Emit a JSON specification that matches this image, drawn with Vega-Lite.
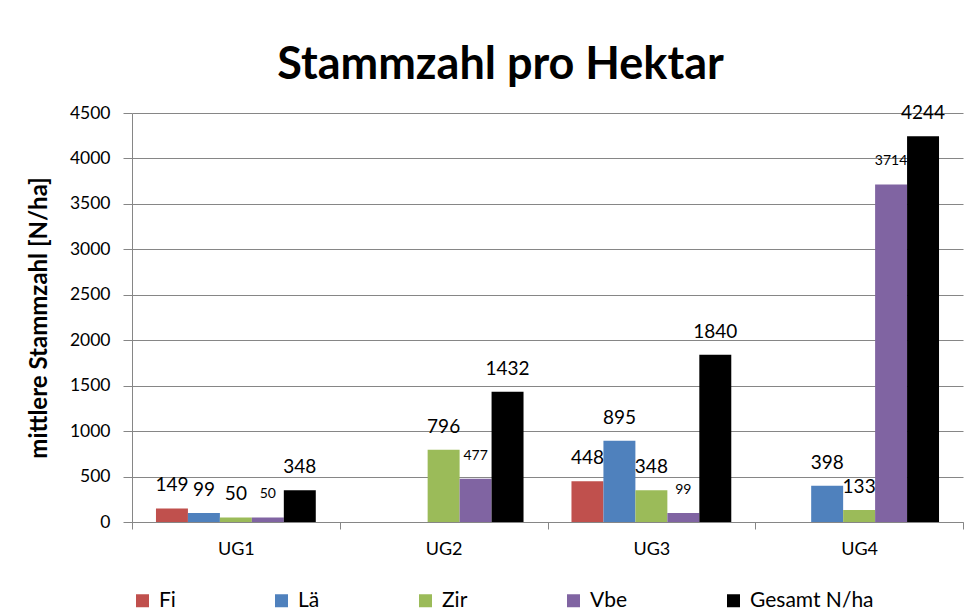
{
  "$schema": "https://vega.github.io/schema/vega-lite/v6.json",
  "autosize": {"type": "none"},
  "width": 831,
  "height": 409,
  "padding": {"left": 132, "top": 113, "right": 17, "bottom": 89},
  "background": "white",
  "config": {
    "font": "Lato",
    "view": {"stroke": null}
  },
  "title": {
    "text": "Stammzahl pro Hektar",
    "font": "Lato",
    "fontSize": 45,
    "fontWeight": "bold",
    "color": "black",
    "anchor": "middle",
    "dx": -47,
    "offset": 16
  },
  "data": {
    "values": [
      {"UG": "UG1", "Art": "Fi", "N": 149},
      {"UG": "UG1", "Art": "Lä", "N": 99},
      {"UG": "UG1", "Art": "Zir", "N": 50},
      {"UG": "UG1", "Art": "Vbe", "N": 50},
      {"UG": "UG1", "Art": "Gesamt N/ha", "N": 348},
      {"UG": "UG2", "Art": "Zir", "N": 796},
      {"UG": "UG2", "Art": "Vbe", "N": 477},
      {"UG": "UG2", "Art": "Gesamt N/ha", "N": 1432},
      {"UG": "UG3", "Art": "Fi", "N": 448},
      {"UG": "UG3", "Art": "Lä", "N": 895},
      {"UG": "UG3", "Art": "Zir", "N": 348},
      {"UG": "UG3", "Art": "Vbe", "N": 99},
      {"UG": "UG3", "Art": "Gesamt N/ha", "N": 1840},
      {"UG": "UG4", "Art": "Lä", "N": 398},
      {"UG": "UG4", "Art": "Zir", "N": 133},
      {"UG": "UG4", "Art": "Vbe", "N": 3714},
      {"UG": "UG4", "Art": "Gesamt N/ha", "N": 4244}
    ]
  },
  "encoding": {
    "x": {
      "field": "UG",
      "type": "nominal",
      "scale": {"paddingInner": 0, "paddingOuter": 0},
      "axis": {
        "title": null,
        "labelAngle": 0,
        "tickBand": "extent",
        "domainColor": "#868686",
        "tickColor": "#868686",
        "tickSize": 7,
        "labelFont": "Lato",
        "labelFontSize": 18,
        "labelColor": "black",
        "labelPadding": 11
      }
    },
    "xOffset": {
      "field": "Art",
      "type": "nominal",
      "sort": ["Fi", "Lä", "Zir", "Vbe", "Gesamt N/ha"],
      "scale": {"paddingInner": 0, "paddingOuter": 0.75}
    },
    "y": {
      "field": "N",
      "type": "quantitative",
      "scale": {"domain": [0, 4500], "nice": false},
      "axis": {
        "title": "mittlere Stammzahl [N/ha]",
        "titleFont": "Lato",
        "titleFontSize": 24,
        "titleFontWeight": "bold",
        "titleColor": "black",
        "titlePadding": 18,
        "values": [0, 500, 1000, 1500, 2000, 2500, 3000, 3500, 4000, 4500],
        "format": "d",
        "grid": true,
        "gridColor": "#868686",
        "domainColor": "#868686",
        "tickColor": "#868686",
        "tickSize": 9,
        "labelPadding": 13,
        "labelFont": "Lato",
        "labelFontSize": 17.5,
        "labelColor": "black"
      }
    }
  },
  "layer": [
    {
      "mark": {"type": "bar"},
      "encoding": {
        "color": {
          "field": "Art",
          "type": "nominal",
          "scale": {
            "domain": ["Fi", "Lä", "Zir", "Vbe", "Gesamt N/ha"],
            "range": ["#C0504D", "#4F81BD", "#9BBB59", "#8064A2", "#000000"]
          },
          "legend": {
            "title": null,
            "orient": "none",
            "direction": "horizontal",
            "legendX": 0,
            "legendY": 477,
            "symbolType": "square",
            "symbolSize": 169,
            "symbolStrokeWidth": 0,
            "symbolOpacity": 1,
            "labelFont": "Lato",
            "labelFontSize": 21,
            "labelColor": "black",
            "labelOffset": 6,
            "columnPadding": 95
          }
        }
      }
    },
    {
      "mark": {"type": "text", "baseline": "middle", "dy": -23, "color": "black", "font": "Lato"},
      "encoding": {
        "text": {"field": "N", "type": "quantitative"},
        "size": {
          "condition": {"test": "datum.Art === 'Vbe'", "value": 14},
          "value": 19
        }
      }
    }
  ]
}
